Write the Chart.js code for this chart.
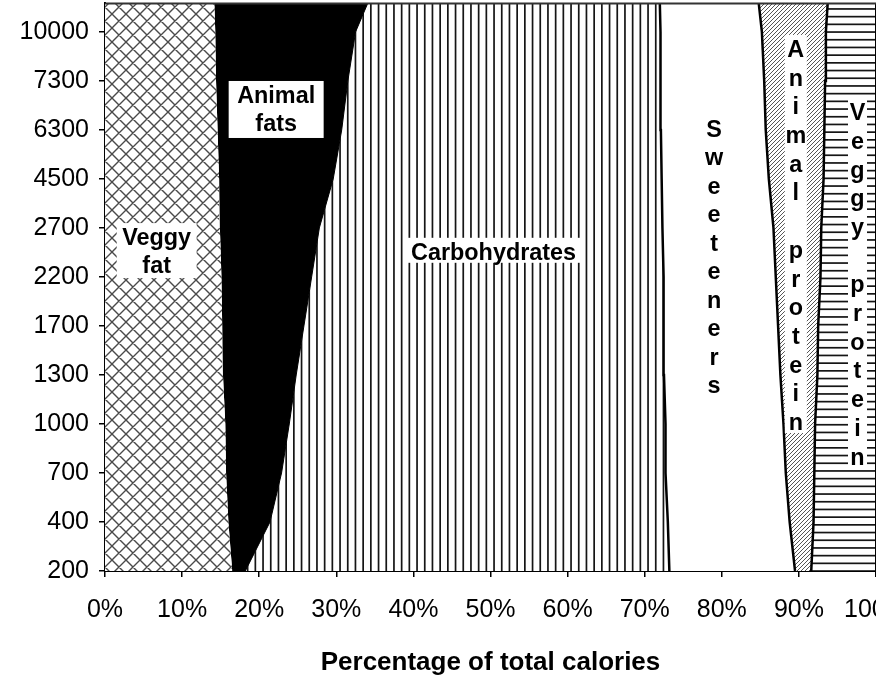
<!DOCTYPE html>
<html><head><meta charset="utf-8">
<script src="https://cdn.jsdelivr.net/npm/chart.js@4/dist/chart.umd.min.js"></script>
<style>html,body{margin:0;padding:0;background:#fff}canvas{display:block}</style>
</head><body>
<canvas id="c" width="876" height="678"></canvas>
<script>
// Category labels (daily income level) bottom -> top; last entry is above the visible area
const incomeLevels = ['200','400','700','1000','1300','1700','2200','2700','4500','6300','7300','10000',''];
// Share of total calories (%) per category
const veggyFat      = [16.5,16.0,15.7,15.6,15.3,15.2,15.1,14.9,14.8,14.6,14.4,14.3,14.1];
const animalFats    = [ 1.7, 5.4, 7.2, 8.3, 9.5,10.6,11.7,12.9,14.8,16.1,17.1,18.2,21.1];
const carbohydrates = [55.0,51.6,49.8,48.8,47.7,46.7,45.6,44.5,42.6,41.4,40.6,39.5,36.7];
const sweeteners    = [16.3,15.8,15.6,15.3,15.1,14.8,14.6,14.4,13.9,13.6,13.4,13.2,12.6];
const animalProtein = [ 2.1, 3.1, 3.7, 4.1, 4.8, 5.2, 5.8, 6.2, 7.1, 7.6, 7.9, 8.3, 9.4];
const veggyProtein  = [ 8.4, 8.1, 8.0, 7.9, 7.6, 7.5, 7.2, 7.1, 6.8, 6.7, 6.6, 6.5, 6.1];
const xTickValues = [0,10,20,30,40,50,60,70,80,90,100];
const xTitle = 'Percentage of total calories';

const FONT = '"Liberation Sans", Arial, Helvetica, sans-serif';
Chart.defaults.font.family = FONT;
Chart.defaults.color = '#000';

const canvas = document.getElementById('c');
const ctx0 = canvas.getContext('2d');
function makeTile(w, h, draw) {
  const c = document.createElement('canvas'); c.width = w; c.height = h;
  const g = c.getContext('2d'); g.fillStyle = '#fff'; g.fillRect(0, 0, w, h);
  draw(g, w, h); return c;
}
const crossPat = ctx0.createPattern(makeTile(14, 14, g => {
  g.strokeStyle = '#4a4a4a'; g.lineWidth = 1.4; g.beginPath();
  for (const o of [-14, 0, 14]) { g.moveTo(o, 0); g.lineTo(o + 14, 14); g.moveTo(o + 14, 0); g.lineTo(o, 14); }
  g.stroke();
}), 'repeat');
const vertPat = ctx0.createPattern(makeTile(77, 4, g => {
  g.fillStyle = '#151515'; for (let i = 0; i < 10; i++) g.fillRect(i * 7.7 + 0.4, 0, 1.7, 4);
}), 'repeat');
const horizPat = ctx0.createPattern(makeTile(4, 77, g => {
  g.fillStyle = '#151515'; for (let i = 0; i < 10; i++) g.fillRect(0, i * 7.7 + 0.4, 4, 1.7);
}), 'repeat');
const diagPat = ctx0.createPattern(makeTile(8, 8, g => {
  g.strokeStyle = '#555'; g.lineWidth = 1; g.beginPath();
  for (const o of [-8, -4, 0, 4, 8]) { g.moveTo(o, 8); g.lineTo(o + 8, 0); }
  g.stroke();
}), 'repeat');

function pts(arr) { return arr.map((v, i) => ({ x: v, y: i })); }
function ds(label, arr, bg, bw, fill) {
  return { label, data: pts(arr), backgroundColor: bg, borderColor: '#000', borderWidth: bw,
    fill, pointRadius: 0, tension: 0, clip: 0 };
}

const labelDefs = [
  { lines: ['Veggy', 'fat'], pct: 6.7, idx: 6.65, lh: 28, padX: 5.5, padBottom: 5 },
  { lines: ['Animal', 'fats'], pct: 22.2, idx: 9.55, lh: 28, padX: 8.5, padBottom: 7 },
  { lines: ['Carbohydrates'], pct: 50.4, idx: 6.35, lh: 28, padX: 6, padBottom: 3 },
  { lines: 'Sweeteners'.split(''), pct: 79.0, idx: 8.86, lh: 28.5, padX: 1, padBottom: 4, fixedW: 22 },
  { lines: 'Animal protein'.split(''), pct: 89.6, idx: 10.49, lh: 28.7, padX: 1, padBottom: 3, fixedW: 22 },
  { lines: 'Veggy protein'.split(''), pct: 97.6, idx: 9.2, lh: 28.7, padX: 1, padBottom: 3, fixedW: 19 }
];

const labelPlugin = {
  id: 'areaLabels',
  afterDatasetsDraw(chart) {
    const { ctx, scales: { x, y } } = chart;
    ctx.save();
    ctx.font = 'bold 23.4px ' + FONT;
    ctx.textAlign = 'center'; ctx.textBaseline = 'alphabetic';
    for (const d of labelDefs) {
      const cx = x.getPixelForValue(d.pct);
      const b0 = y.getPixelForValue(d.idx);
      const w = d.fixedW || Math.max(...d.lines.map(t => ctx.measureText(t).width)) + 2 * d.padX;
      const top = b0 - 22, bottom = b0 + (d.lines.length - 1) * d.lh + d.padBottom;
      ctx.fillStyle = '#fff';
      ctx.fillRect(cx - w / 2, top, w, bottom - top);
      ctx.fillStyle = '#000';
      d.lines.forEach((t, i) => { if (t.trim()) ctx.fillText(t, cx, b0 + i * d.lh); });
    }
    ctx.restore();
  },
  afterDraw(chart) {
    const { ctx, chartArea: a } = chart;
    ctx.save(); ctx.strokeStyle = '#333'; ctx.lineWidth = 2;
    ctx.beginPath(); ctx.moveTo(a.left, a.top + 0.5); ctx.lineTo(a.right, a.top + 0.5); ctx.stroke();
    ctx.restore();
  }
};

new Chart(canvas, {
  type: 'line',
  data: {
    datasets: [
      ds('Veggy fat', veggyFat, crossPat, 0, 'origin'),
      ds('Animal fats', animalFats, '#000', 1, '-1'),
      ds('Carbohydrates', carbohydrates, vertPat, 2.5, '-1'),
      ds('Sweeteners', sweeteners, '#fff', 2.5, '-1'),
      ds('Animal protein', animalProtein, diagPat, 2.5, '-1'),
      ds('Veggy protein', veggyProtein, horizPat, 2, '-1')
    ]
  },
  options: {
    responsive: false, animation: false, indexAxis: 'y',
    layout: { padding: { top: 3, right: 0, left: 0, bottom: 0 } },
    plugins: { legend: { display: false }, tooltip: { enabled: false } },
    scales: {
      x: {
        type: 'linear', stacked: true, min: 0, max: 100,
        afterBuildTicks: s => { s.ticks = xTickValues.map(v => ({ value: v })); },
        ticks: { callback: v => v + '%', font: { size: 25 }, padding: 18, maxRotation: 0, autoSkip: false },
        grid: { drawOnChartArea: false, drawTicks: true, tickLength: 6, color: '#000', lineWidth: 1.5 },
        border: { display: true, color: '#000', width: 2 },
        title: { display: true, text: xTitle, font: { size: 26, weight: 'bold' }, padding: 0 },
        afterFit: s => { s.height = 107; s.paddingLeft = 0; s.paddingRight = 0; }
      },
      y: {
        type: 'linear', min: 0, max: 11.59,
        afterBuildTicks: s => { s.ticks = incomeLevels.map((l, i) => ({ value: i })).filter(t => t.value <= 11); },
        ticks: { callback: v => incomeLevels[v] ?? '', font: { size: 25 }, padding: 10, autoSkip: false },
        grid: { drawOnChartArea: false, drawTicks: true, tickLength: 6, color: '#000', lineWidth: 1.5 },
        border: { display: true, color: '#000', width: 2 },
        afterFit: s => { s.width = 105; s.paddingTop = 0; s.paddingBottom = 0; }
      }
    }
  },
  plugins: [labelPlugin]
});
</script>
</body></html>
